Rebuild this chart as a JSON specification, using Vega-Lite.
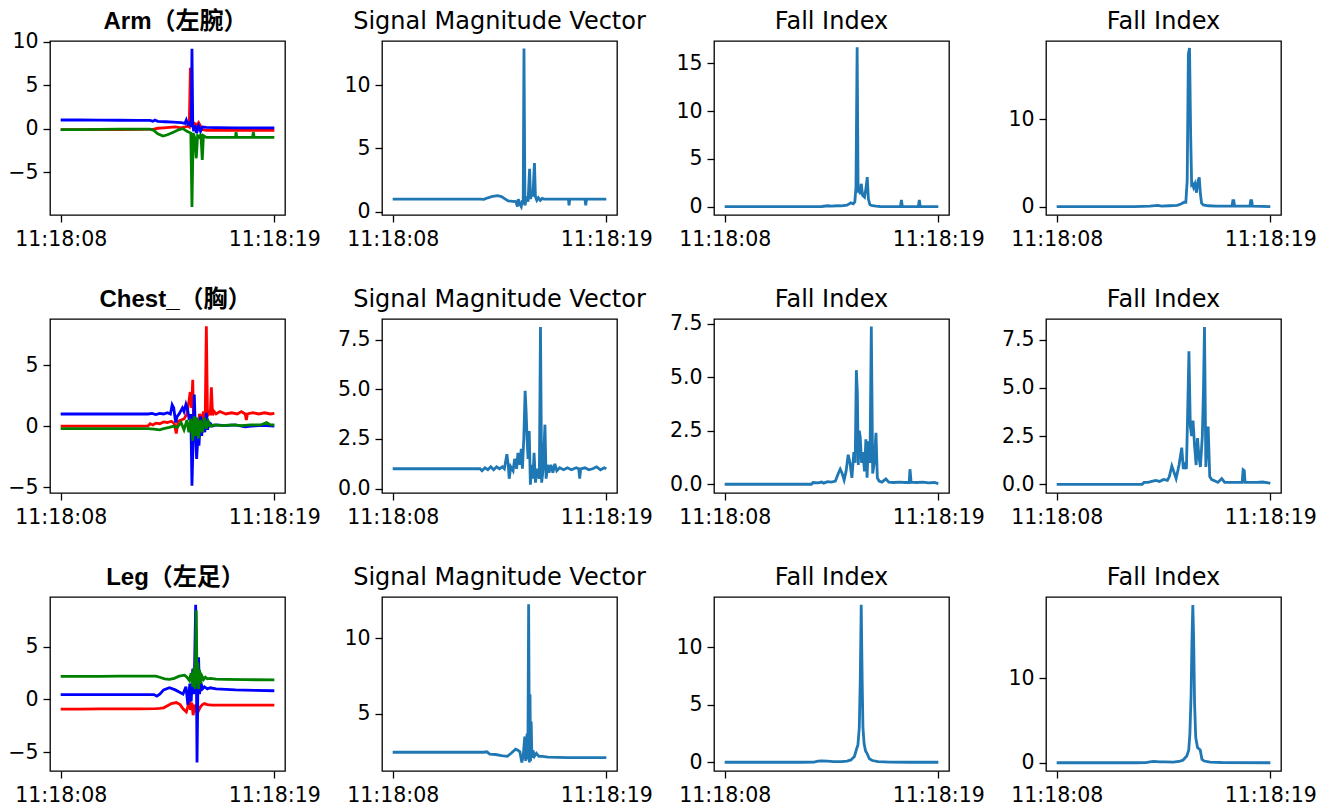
{
  "$schema": "https://vega.github.io/schema/vega-lite/v6.json",
  "padding": {"left": 7, "top": 9, "right": 5, "bottom": 5},
  "background": "white",
  "columns": 4,
  "spacing": {"row": 104, "column": 97},
  "bounds": "flush",
  "config": {
    "font": "DejaVu Sans",
    "view": {"stroke": "#000", "strokeWidth": 1.3},
    "axis": {"domain": false, "grid": false, "ticks": true, "tickColor": "#000", "tickSize": 7, "tickWidth": 1.3, "labelFont": "DejaVu Sans", "labelFontSize": 20.5, "labelColor": "#000", "labelPadding": 5, "labelFlush": false, "labelOverlap": false},
    "axisX": {"labelAngle": 0, "labelPadding": 7},
    "title": {"font": "DejaVu Sans", "fontSize": 24, "fontWeight": "normal", "color": "#000", "offset": 7, "baseline": "alphabetic", "anchor": "middle"},
    "line": {"strokeWidth": 2.8, "color": "#1f77b4"}
  },
  "datasets": {
    "arm": [
      {"s":"x","t":0,"v":-0.1},{"s":"x","t":1,"v":-0.1},{"s":"x","t":2,"v":-0.1},{"s":"x","t":3,"v":-0.1},{"s":"x","t":4,"v":-0.08},{"s":"x","t":4.8,"v":-0.05},{"s":"x","t":5.0,"v":0.05},{"s":"x","t":5.3,"v":0.1},{"s":"x","t":5.6,"v":0.15},{"s":"x","t":5.9,"v":0.2},{"s":"x","t":6.2,"v":0.1},{"s":"x","t":6.4,"v":0.2},{"s":"x","t":6.55,"v":0.3},{"s":"x","t":6.62,"v":0.2},{"s":"x","t":6.68,"v":7.0},{"s":"x","t":6.72,"v":0.5},{"s":"x","t":6.8,"v":0.3},{"s":"x","t":6.9,"v":0.6},{"s":"x","t":7.0,"v":0.4},{"s":"x","t":7.1,"v":0.7},{"s":"x","t":7.2,"v":0.3},{"s":"x","t":7.3,"v":-0.1},{"s":"x","t":7.5,"v":-0.2},{"s":"x","t":8,"v":-0.2},{"s":"x","t":9,"v":-0.2},{"s":"x","t":10,"v":-0.2},{"s":"x","t":11,"v":-0.2},
      {"s":"y","t":0,"v":1.0},{"s":"y","t":1,"v":1.0},{"s":"y","t":2,"v":0.98},{"s":"y","t":3,"v":0.97},{"s":"y","t":4,"v":0.95},{"s":"y","t":4.6,"v":0.95},{"s":"y","t":4.75,"v":0.85},{"s":"y","t":4.85,"v":1.0},{"s":"y","t":5.0,"v":0.85},{"s":"y","t":5.4,"v":0.8},{"s":"y","t":5.8,"v":0.75},{"s":"y","t":6.2,"v":0.7},{"s":"y","t":6.4,"v":0.6},{"s":"y","t":6.47,"v":1.0},{"s":"y","t":6.55,"v":0.5},{"s":"y","t":6.65,"v":0.7},{"s":"y","t":6.72,"v":0.2},{"s":"y","t":6.76,"v":9.2},{"s":"y","t":6.8,"v":0.5},{"s":"y","t":6.85,"v":-0.3},{"s":"y","t":6.92,"v":0.4},{"s":"y","t":7.0,"v":-0.5},{"s":"y","t":7.1,"v":0.3},{"s":"y","t":7.2,"v":-0.3},{"s":"y","t":7.3,"v":0.2},{"s":"y","t":7.5,"v":0.15},{"s":"y","t":8,"v":0.12},{"s":"y","t":9,"v":0.1},{"s":"y","t":10,"v":0.1},{"s":"y","t":11,"v":0.1},
      {"s":"z","t":0,"v":-0.1},{"s":"z","t":1,"v":-0.1},{"s":"z","t":2,"v":-0.08},{"s":"z","t":3,"v":-0.05},{"s":"z","t":4,"v":-0.05},{"s":"z","t":4.6,"v":-0.05},{"s":"z","t":4.8,"v":-0.2},{"s":"z","t":5.0,"v":-0.6},{"s":"z","t":5.27,"v":-0.85},{"s":"z","t":5.5,"v":-0.7},{"s":"z","t":5.8,"v":-0.4},{"s":"z","t":6.1,"v":-0.1},{"s":"z","t":6.3,"v":0.0},{"s":"z","t":6.5,"v":-0.3},{"s":"z","t":6.7,"v":-0.5},{"s":"z","t":6.76,"v":-9.0},{"s":"z","t":6.82,"v":-0.5},{"s":"z","t":6.9,"v":-1.0},{"s":"z","t":6.98,"v":-3.4},{"s":"z","t":7.05,"v":-0.8},{"s":"z","t":7.15,"v":-1.0},{"s":"z","t":7.22,"v":-0.6},{"s":"z","t":7.29,"v":-3.6},{"s":"z","t":7.35,"v":-0.8},{"s":"z","t":7.5,"v":-1.0},{"s":"z","t":8,"v":-1.0},{"s":"z","t":9.0,"v":-1.0},{"s":"z","t":9.03,"v":-0.4},{"s":"z","t":9.07,"v":-1.0},{"s":"z","t":9.88,"v":-1.0},{"s":"z","t":9.92,"v":-0.4},{"s":"z","t":9.96,"v":-1.0},{"s":"z","t":11,"v":-1.0}
    ],
    "arm_smv": [
      {"t":0,"v":1.0},{"t":1,"v":1.0},{"t":2,"v":1.0},{"t":3,"v":1.0},{"t":4,"v":1.0},{"t":4.5,"v":1.0},{"t":4.7,"v":0.98},{"t":4.9,"v":1.1},{"t":5.15,"v":1.22},{"t":5.4,"v":1.27},{"t":5.6,"v":1.2},{"t":5.8,"v":1.0},{"t":5.95,"v":0.85},{"t":6.2,"v":0.82},{"t":6.35,"v":0.8},{"t":6.42,"v":0.4},{"t":6.47,"v":1.0},{"t":6.55,"v":0.6},{"t":6.62,"v":0.4},{"t":6.68,"v":0.9},{"t":6.72,"v":0.6},{"t":6.76,"v":12.9},{"t":6.81,"v":0.5},{"t":6.9,"v":1.2},{"t":6.97,"v":0.8},{"t":7.05,"v":3.4},{"t":7.1,"v":1.0},{"t":7.15,"v":1.5},{"t":7.22,"v":1.2},{"t":7.3,"v":3.85},{"t":7.35,"v":1.2},{"t":7.42,"v":0.9},{"t":7.5,"v":1.1},{"t":7.6,"v":0.9},{"t":7.7,"v":1.05},{"t":7.8,"v":1.0},{"t":8,"v":1.0},{"t":9.05,"v":1.0},{"t":9.08,"v":0.5},{"t":9.12,"v":1.0},{"t":9.9,"v":1.0},{"t":9.94,"v":0.5},{"t":9.98,"v":1.0},{"t":11,"v":1.0}
    ],
    "arm_fi1": [
      {"t":0,"v":0},{"t":1,"v":0},{"t":2,"v":0},{"t":3,"v":0},{"t":4,"v":0},{"t":5.0,"v":0.02},{"t":5.3,"v":0.1},{"t":5.5,"v":0.05},{"t":5.8,"v":0.1},{"t":6.0,"v":0.08},{"t":6.3,"v":0.15},{"t":6.5,"v":0.4},{"t":6.62,"v":0.3},{"t":6.7,"v":0.5},{"t":6.76,"v":2.0},{"t":6.82,"v":16.7},{"t":6.87,"v":1.5},{"t":6.93,"v":2.0},{"t":6.98,"v":1.3},{"t":7.03,"v":2.4},{"t":7.1,"v":1.2},{"t":7.2,"v":1.0},{"t":7.28,"v":2.0},{"t":7.34,"v":3.1},{"t":7.4,"v":0.8},{"t":7.48,"v":0.2},{"t":7.6,"v":0.1},{"t":7.8,"v":0.05},{"t":8,"v":0.02},{"t":9.05,"v":0.0},{"t":9.1,"v":0.7},{"t":9.15,"v":0.0},{"t":9.97,"v":0.0},{"t":10.02,"v":0.7},{"t":10.07,"v":0.0},{"t":11,"v":0.0}
    ],
    "arm_fi2": [
      {"t":0,"v":0},{"t":1,"v":0},{"t":2,"v":0},{"t":3,"v":0},{"t":4,"v":0},{"t":4.8,"v":0.05},{"t":5.2,"v":0.15},{"t":5.4,"v":0.05},{"t":5.8,"v":0.1},{"t":6.2,"v":0.15},{"t":6.4,"v":0.3},{"t":6.56,"v":0.5},{"t":6.65,"v":0.5},{"t":6.72,"v":3},{"t":6.78,"v":17.5},{"t":6.84,"v":18.2},{"t":6.9,"v":8},{"t":6.95,"v":2.5},{"t":7.0,"v":2.6},{"t":7.05,"v":2.2},{"t":7.12,"v":2.6},{"t":7.2,"v":1.6},{"t":7.28,"v":3.0},{"t":7.34,"v":3.35},{"t":7.4,"v":1.5},{"t":7.46,"v":0.4},{"t":7.55,"v":0.2},{"t":7.8,"v":0.1},{"t":8.2,"v":0.05},{"t":9.03,"v":0.05},{"t":9.07,"v":0.7},{"t":9.12,"v":0.7},{"t":9.16,"v":0.05},{"t":9.95,"v":0.05},{"t":9.99,"v":0.7},{"t":10.04,"v":0.7},{"t":10.08,"v":0.05},{"t":11,"v":0.0}
    ],
    "chest": [
      {"s":"x","t":0,"v":0.0},{"s":"x","t":1,"v":0.0},{"s":"x","t":2,"v":0.0},{"s":"x","t":3,"v":0.0},{"s":"x","t":4,"v":0.0},{"s":"x","t":4.5,"v":0.02},{"s":"x","t":4.6,"v":0.2},{"s":"x","t":4.75,"v":0.1},{"s":"x","t":4.9,"v":0.25},{"s":"x","t":5.1,"v":0.2},{"s":"x","t":5.3,"v":0.35},{"s":"x","t":5.5,"v":0.3},{"s":"x","t":5.7,"v":0.4},{"s":"x","t":5.85,"v":0.2},{"s":"x","t":5.95,"v":-0.6},{"s":"x","t":6.05,"v":0.4},{"s":"x","t":6.2,"v":0.5},{"s":"x","t":6.35,"v":0.6},{"s":"x","t":6.5,"v":1.0},{"s":"x","t":6.6,"v":2.0},{"s":"x","t":6.67,"v":2.8},{"s":"x","t":6.74,"v":1.5},{"s":"x","t":6.8,"v":3.8},{"s":"x","t":6.86,"v":-1.0},{"s":"x","t":6.95,"v":0.5},{"s":"x","t":7.05,"v":-0.3},{"s":"x","t":7.15,"v":1.0},{"s":"x","t":7.25,"v":0.4},{"s":"x","t":7.35,"v":1.2},{"s":"x","t":7.44,"v":0.5},{"s":"x","t":7.5,"v":8.2},{"s":"x","t":7.56,"v":0.8},{"s":"x","t":7.64,"v":1.3},{"s":"x","t":7.7,"v":0.9},{"s":"x","t":7.76,"v":3.2},{"s":"x","t":7.82,"v":0.9},{"s":"x","t":7.9,"v":1.2},{"s":"x","t":8.0,"v":1.0},{"s":"x","t":8.2,"v":1.2},{"s":"x","t":8.5,"v":1.0},{"s":"x","t":8.8,"v":1.1},{"s":"x","t":9.1,"v":1.0},{"s":"x","t":9.3,"v":1.2},{"s":"x","t":9.5,"v":1.0},{"s":"x","t":9.56,"v":0.5},{"s":"x","t":9.62,"v":1.0},{"s":"x","t":9.9,"v":1.1},{"s":"x","t":10.2,"v":1.0},{"s":"x","t":10.5,"v":1.1},{"s":"x","t":10.8,"v":1.0},{"s":"x","t":11,"v":1.05},
      {"s":"y","t":0,"v":1.0},{"s":"y","t":1,"v":1.0},{"s":"y","t":2,"v":1.0},{"s":"y","t":3,"v":1.0},{"s":"y","t":4,"v":1.0},{"s":"y","t":4.5,"v":1.0},{"s":"y","t":4.7,"v":1.05},{"s":"y","t":4.9,"v":0.95},{"s":"y","t":5.1,"v":1.05},{"s":"y","t":5.3,"v":1.0},{"s":"y","t":5.5,"v":1.1},{"s":"y","t":5.65,"v":1.0},{"s":"y","t":5.74,"v":1.75},{"s":"y","t":5.82,"v":1.5},{"s":"y","t":5.92,"v":0.3},{"s":"y","t":6.0,"v":0.8},{"s":"y","t":6.1,"v":1.0},{"s":"y","t":6.27,"v":1.5},{"s":"y","t":6.35,"v":1.2},{"s":"y","t":6.45,"v":1.8},{"s":"y","t":6.53,"v":1.4},{"s":"y","t":6.62,"v":0.5},{"s":"y","t":6.7,"v":1.0},{"s":"y","t":6.76,"v":-4.9},{"s":"y","t":6.82,"v":-1.0},{"s":"y","t":6.88,"v":2.6},{"s":"y","t":6.94,"v":-0.5},{"s":"y","t":7.0,"v":-2.7},{"s":"y","t":7.06,"v":-1.0},{"s":"y","t":7.12,"v":-1.6},{"s":"y","t":7.2,"v":0.8},{"s":"y","t":7.26,"v":-0.8},{"s":"y","t":7.33,"v":0.5},{"s":"y","t":7.42,"v":-0.5},{"s":"y","t":7.5,"v":1.1},{"s":"y","t":7.56,"v":-0.3},{"s":"y","t":7.64,"v":0.3},{"s":"y","t":7.72,"v":0.2},{"s":"y","t":7.8,"v":0.0},{"s":"y","t":8.0,"v":0.1},{"s":"y","t":8.5,"v":0.05},{"s":"y","t":9.0,"v":0.1},{"s":"y","t":9.5,"v":-0.05},{"s":"y","t":9.8,"v":0.0},{"s":"y","t":10.2,"v":0.05},{"s":"y","t":10.6,"v":0.05},{"s":"y","t":11,"v":0.0},
      {"s":"z","t":0,"v":-0.2},{"s":"z","t":1,"v":-0.2},{"s":"z","t":2,"v":-0.2},{"s":"z","t":3,"v":-0.2},{"s":"z","t":4,"v":-0.2},{"s":"z","t":4.5,"v":-0.2},{"s":"z","t":4.8,"v":-0.25},{"s":"z","t":5.1,"v":-0.3},{"s":"z","t":5.3,"v":-0.2},{"s":"z","t":5.6,"v":-0.1},{"s":"z","t":5.8,"v":0.0},{"s":"z","t":6.0,"v":-0.1},{"s":"z","t":6.2,"v":0.3},{"s":"z","t":6.35,"v":-0.3},{"s":"z","t":6.5,"v":0.5},{"s":"z","t":6.6,"v":-0.5},{"s":"z","t":6.7,"v":0.6},{"s":"z","t":6.8,"v":-1.2},{"s":"z","t":6.87,"v":0.8},{"s":"z","t":6.95,"v":-0.8},{"s":"z","t":7.02,"v":0.7},{"s":"z","t":7.1,"v":-1.0},{"s":"z","t":7.2,"v":0.5},{"s":"z","t":7.3,"v":-0.5},{"s":"z","t":7.4,"v":0.7},{"s":"z","t":7.5,"v":-0.2},{"s":"z","t":7.6,"v":0.4},{"s":"z","t":7.7,"v":0.0},{"s":"z","t":7.9,"v":0.1},{"s":"z","t":8.3,"v":0.05},{"s":"z","t":8.8,"v":0.1},{"s":"z","t":9.3,"v":0.05},{"s":"z","t":9.8,"v":0.1},{"s":"z","t":10.3,"v":0.1},{"s":"z","t":10.6,"v":0.3},{"s":"z","t":10.8,"v":0.1},{"s":"z","t":11,"v":0.1}
    ],
    "chest_smv": [
      {"t":0,"v":1.0},{"t":1,"v":1.0},{"t":2,"v":1.0},{"t":3,"v":1.0},{"t":4,"v":1.0},{"t":4.5,"v":1.0},{"t":4.6,"v":0.9},{"t":4.75,"v":1.05},{"t":4.9,"v":0.95},{"t":5.05,"v":1.1},{"t":5.2,"v":0.95},{"t":5.35,"v":1.1},{"t":5.5,"v":1.0},{"t":5.65,"v":1.1},{"t":5.75,"v":1.0},{"t":5.88,"v":1.73},{"t":5.95,"v":1.2},{"t":6.0,"v":0.5},{"t":6.08,"v":1.1},{"t":6.2,"v":0.9},{"t":6.28,"v":1.5},{"t":6.38,"v":1.0},{"t":6.45,"v":1.8},{"t":6.55,"v":1.2},{"t":6.62,"v":2.0},{"t":6.68,"v":1.0},{"t":6.75,"v":2.5},{"t":6.82,"v":4.92},{"t":6.87,"v":3.9},{"t":6.92,"v":2.5},{"t":6.97,"v":1.5},{"t":7.03,"v":2.9},{"t":7.09,"v":0.2},{"t":7.15,"v":1.2},{"t":7.22,"v":0.5},{"t":7.28,"v":1.8},{"t":7.35,"v":0.3},{"t":7.45,"v":1.0},{"t":7.55,"v":0.5},{"t":7.61,"v":8.14},{"t":7.67,"v":0.3},{"t":7.75,"v":1.0},{"t":7.84,"v":3.22},{"t":7.9,"v":0.5},{"t":7.98,"v":1.2},{"t":8.05,"v":0.8},{"t":8.15,"v":1.2},{"t":8.25,"v":0.8},{"t":8.35,"v":1.25},{"t":8.45,"v":0.9},{"t":8.6,"v":1.05},{"t":8.8,"v":0.95},{"t":9.0,"v":1.05},{"t":9.2,"v":0.95},{"t":9.45,"v":1.05},{"t":9.58,"v":1.0},{"t":9.63,"v":0.5},{"t":9.68,"v":1.0},{"t":9.9,"v":1.05},{"t":10.1,"v":0.95},{"t":10.3,"v":1.0},{"t":10.5,"v":1.1},{"t":10.7,"v":0.95},{"t":10.9,"v":1.05},{"t":11,"v":1.0}
    ],
    "chest_fi1": [
      {"t":0,"v":0.0},{"t":1,"v":0.0},{"t":2,"v":0.0},{"t":3,"v":0.0},{"t":4,"v":0.0},{"t":4.47,"v":0.0},{"t":4.55,"v":0.08},{"t":4.8,"v":0.06},{"t":5.0,"v":0.1},{"t":5.1,"v":0.05},{"t":5.3,"v":0.12},{"t":5.5,"v":0.1},{"t":5.7,"v":0.15},{"t":5.85,"v":0.5},{"t":5.95,"v":0.7},{"t":6.05,"v":0.5},{"t":6.15,"v":0.2},{"t":6.25,"v":0.6},{"t":6.36,"v":1.38},{"t":6.45,"v":1.0},{"t":6.55,"v":0.3},{"t":6.65,"v":1.5},{"t":6.72,"v":1.0},{"t":6.78,"v":5.33},{"t":6.83,"v":4.3},{"t":6.88,"v":0.9},{"t":6.93,"v":2.5},{"t":6.98,"v":2.2},{"t":7.05,"v":1.0},{"t":7.12,"v":1.5},{"t":7.2,"v":0.6},{"t":7.27,"v":2.1},{"t":7.33,"v":0.3},{"t":7.4,"v":2.0},{"t":7.48,"v":1.0},{"t":7.55,"v":7.37},{"t":7.62,"v":0.5},{"t":7.7,"v":1.0},{"t":7.79,"v":2.4},{"t":7.86,"v":0.3},{"t":7.95,"v":0.15},{"t":8.1,"v":0.1},{"t":8.3,"v":0.25},{"t":8.45,"v":0.1},{"t":8.7,"v":0.08},{"t":9.0,"v":0.1},{"t":9.3,"v":0.08},{"t":9.5,"v":0.08},{"t":9.54,"v":0.7},{"t":9.6,"v":0.1},{"t":9.9,"v":0.08},{"t":10.2,"v":0.1},{"t":10.5,"v":0.06},{"t":10.8,"v":0.08},{"t":11,"v":0.03}
    ],
    "chest_fi2": [
      {"t":0,"v":0.0},{"t":1,"v":0.0},{"t":2,"v":0.0},{"t":3,"v":0.0},{"t":4,"v":0.0},{"t":4.4,"v":0.0},{"t":4.5,"v":0.1},{"t":4.7,"v":0.1},{"t":4.9,"v":0.15},{"t":5.1,"v":0.2},{"t":5.3,"v":0.15},{"t":5.5,"v":0.25},{"t":5.7,"v":0.2},{"t":5.8,"v":0.4},{"t":5.93,"v":0.95},{"t":6.05,"v":0.6},{"t":6.15,"v":0.3},{"t":6.3,"v":1.0},{"t":6.44,"v":1.9},{"t":6.52,"v":0.8},{"t":6.6,"v":1.0},{"t":6.68,"v":0.8},{"t":6.75,"v":4.0},{"t":6.81,"v":6.9},{"t":6.88,"v":3.0},{"t":6.95,"v":2.5},{"t":7.02,"v":3.3},{"t":7.1,"v":2.0},{"t":7.18,"v":1.0},{"t":7.25,"v":2.4},{"t":7.32,"v":1.5},{"t":7.4,"v":0.9},{"t":7.5,"v":2.5},{"t":7.56,"v":5.0},{"t":7.61,"v":8.15},{"t":7.68,"v":0.9},{"t":7.74,"v":2.0},{"t":7.8,"v":3.0},{"t":7.88,"v":0.4},{"t":7.98,"v":0.25},{"t":8.1,"v":0.2},{"t":8.3,"v":0.1},{"t":8.5,"v":0.3},{"t":8.65,"v":0.1},{"t":9.0,"v":0.1},{"t":9.3,"v":0.1},{"t":9.55,"v":0.1},{"t":9.6,"v":0.75},{"t":9.66,"v":0.7},{"t":9.7,"v":0.1},{"t":10.0,"v":0.1},{"t":10.3,"v":0.1},{"t":10.6,"v":0.12},{"t":10.9,"v":0.08},{"t":11,"v":0.05}
    ],
    "leg": [
      {"s":"x","t":0,"v":-0.92},{"s":"x","t":1,"v":-0.92},{"s":"x","t":2,"v":-0.9},{"s":"x","t":3,"v":-0.9},{"s":"x","t":4,"v":-0.9},{"s":"x","t":4.9,"v":-0.88},{"s":"x","t":5.1,"v":-0.85},{"s":"x","t":5.3,"v":-0.8},{"s":"x","t":5.5,"v":-0.6},{"s":"x","t":5.7,"v":-0.4},{"s":"x","t":5.95,"v":-0.3},{"s":"x","t":6.15,"v":-0.5},{"s":"x","t":6.3,"v":-0.9},{"s":"x","t":6.47,"v":-1.2},{"s":"x","t":6.55,"v":-0.7},{"s":"x","t":6.62,"v":1.0},{"s":"x","t":6.68,"v":-1.0},{"s":"x","t":6.75,"v":-0.3},{"s":"x","t":6.82,"v":-1.5},{"s":"x","t":6.9,"v":-0.5},{"s":"x","t":6.98,"v":-1.0},{"s":"x","t":7.05,"v":-0.6},{"s":"x","t":7.12,"v":-1.0},{"s":"x","t":7.2,"v":-0.7},{"s":"x","t":7.3,"v":-0.5},{"s":"x","t":7.4,"v":-0.4},{"s":"x","t":7.55,"v":-0.5},{"s":"x","t":7.8,"v":-0.55},{"s":"x","t":8.5,"v":-0.55},{"s":"x","t":9.5,"v":-0.55},{"s":"x","t":11,"v":-0.55},
      {"s":"y","t":0,"v":0.45},{"s":"y","t":1,"v":0.45},{"s":"y","t":2,"v":0.45},{"s":"y","t":3,"v":0.45},{"s":"y","t":4,"v":0.45},{"s":"y","t":4.8,"v":0.45},{"s":"y","t":4.95,"v":0.3},{"s":"y","t":5.1,"v":0.5},{"s":"y","t":5.3,"v":0.9},{"s":"y","t":5.6,"v":1.1},{"s":"y","t":5.9,"v":0.9},{"s":"y","t":6.1,"v":0.7},{"s":"y","t":6.3,"v":0.5},{"s":"y","t":6.45,"v":1.2},{"s":"y","t":6.55,"v":-0.5},{"s":"y","t":6.65,"v":1.5},{"s":"y","t":6.72,"v":-0.2},{"s":"y","t":6.8,"v":2.9},{"s":"y","t":6.87,"v":0.5},{"s":"y","t":6.95,"v":8.98},{"s":"y","t":6.99,"v":2.0},{"s":"y","t":7.02,"v":-6.0},{"s":"y","t":7.06,"v":0.5},{"s":"y","t":7.1,"v":4.0},{"s":"y","t":7.15,"v":0.5},{"s":"y","t":7.22,"v":1.6},{"s":"y","t":7.3,"v":1.0},{"s":"y","t":7.4,"v":1.2},{"s":"y","t":7.55,"v":1.0},{"s":"y","t":7.7,"v":1.1},{"s":"y","t":8.0,"v":1.0},{"s":"y","t":8.5,"v":0.95},{"s":"y","t":9.0,"v":0.9},{"s":"y","t":10.0,"v":0.85},{"s":"y","t":11,"v":0.82},
      {"s":"z","t":0,"v":2.18},{"s":"z","t":1,"v":2.18},{"s":"z","t":2,"v":2.18},{"s":"z","t":3,"v":2.2},{"s":"z","t":4,"v":2.2},{"s":"z","t":4.9,"v":2.2},{"s":"z","t":5.1,"v":2.1},{"s":"z","t":5.35,"v":1.95},{"s":"z","t":5.6,"v":1.9},{"s":"z","t":5.85,"v":2.0},{"s":"z","t":6.1,"v":2.2},{"s":"z","t":6.38,"v":2.3},{"s":"z","t":6.5,"v":2.1},{"s":"z","t":6.62,"v":1.8},{"s":"z","t":6.72,"v":2.5},{"s":"z","t":6.8,"v":1.2},{"s":"z","t":6.86,"v":3.0},{"s":"z","t":6.92,"v":1.0},{"s":"z","t":6.98,"v":8.45},{"s":"z","t":7.02,"v":1.5},{"s":"z","t":7.06,"v":3.5},{"s":"z","t":7.1,"v":1.0},{"s":"z","t":7.15,"v":2.8},{"s":"z","t":7.2,"v":1.5},{"s":"z","t":7.28,"v":2.2},{"s":"z","t":7.36,"v":1.9},{"s":"z","t":7.45,"v":2.1},{"s":"z","t":7.55,"v":1.95},{"s":"z","t":7.7,"v":2.0},{"s":"z","t":8.0,"v":1.92},{"s":"z","t":8.5,"v":1.9},{"s":"z","t":9.5,"v":1.87},{"s":"z","t":11,"v":1.85}
    ],
    "leg_smv": [
      {"t":0,"v":2.47},{"t":1,"v":2.47},{"t":2,"v":2.47},{"t":3,"v":2.47},{"t":4,"v":2.47},{"t":4.7,"v":2.47},{"t":4.85,"v":2.5},{"t":5.0,"v":2.35},{"t":5.3,"v":2.32},{"t":5.6,"v":2.25},{"t":5.9,"v":2.2},{"t":6.1,"v":2.4},{"t":6.33,"v":2.67},{"t":6.45,"v":2.6},{"t":6.55,"v":2.5},{"t":6.65,"v":1.8},{"t":6.72,"v":2.2},{"t":6.8,"v":3.5},{"t":6.85,"v":1.9},{"t":6.92,"v":3.7},{"t":6.96,"v":2.0},{"t":7.0,"v":12.25},{"t":7.04,"v":1.8},{"t":7.07,"v":6.3},{"t":7.1,"v":1.9},{"t":7.13,"v":4.5},{"t":7.17,"v":2.1},{"t":7.22,"v":2.6},{"t":7.3,"v":2.2},{"t":7.4,"v":2.4},{"t":7.53,"v":2.2},{"t":7.7,"v":2.2},{"t":8.0,"v":2.15},{"t":9.0,"v":2.12},{"t":10.0,"v":2.12},{"t":11,"v":2.12}
    ],
    "leg_fi1": [
      {"t":0,"v":0},{"t":1,"v":0},{"t":2,"v":0},{"t":3,"v":0},{"t":4,"v":0},{"t":4.6,"v":0.02},{"t":4.8,"v":0.1},{"t":5.0,"v":0.12},{"t":5.3,"v":0.1},{"t":5.6,"v":0.05},{"t":6.0,"v":0.05},{"t":6.3,"v":0.1},{"t":6.5,"v":0.2},{"t":6.68,"v":0.5},{"t":6.8,"v":1.2},{"t":6.86,"v":1.5},{"t":6.93,"v":3.0},{"t":6.98,"v":7.0},{"t":7.03,"v":13.7},{"t":7.08,"v":7.0},{"t":7.12,"v":3.0},{"t":7.18,"v":1.6},{"t":7.25,"v":1.0},{"t":7.32,"v":0.8},{"t":7.45,"v":0.3},{"t":7.6,"v":0.15},{"t":7.9,"v":0.05},{"t":8.5,"v":0.02},{"t":9.5,"v":0.0},{"t":11,"v":0.0}
    ],
    "leg_fi2": [
      {"t":0,"v":0},{"t":1,"v":0},{"t":2,"v":0},{"t":3,"v":0},{"t":4,"v":0},{"t":4.6,"v":0.02},{"t":4.8,"v":0.1},{"t":5.0,"v":0.15},{"t":5.3,"v":0.1},{"t":5.6,"v":0.1},{"t":6.0,"v":0.08},{"t":6.3,"v":0.15},{"t":6.5,"v":0.3},{"t":6.7,"v":0.8},{"t":6.8,"v":1.5},{"t":6.86,"v":3.5},{"t":6.92,"v":8.0},{"t":6.97,"v":15},{"t":7.01,"v":18.7},{"t":7.05,"v":15},{"t":7.1,"v":7.0},{"t":7.16,"v":3.0},{"t":7.25,"v":1.8},{"t":7.39,"v":1.5},{"t":7.48,"v":0.4},{"t":7.6,"v":0.2},{"t":7.9,"v":0.08},{"t":8.5,"v":0.03},{"t":11,"v":0.0}
    ]
  },
  "concat": [
    {
      "title": {"text": "Arm（左腕）", "font": "Liberation Sans, Noto Sans CJK SC", "fontWeight": "bold", "fontSize": 24, "dx": 8, "offset": -2},
      "width": 235, "height": 174,
      "data": {"name": "arm"},
      "mark": {"type": "line", "strokeWidth": 2.8},
      "encoding": {
        "x": {"field": "t", "type": "quantitative", "scale": {"domain": [-0.55, 11.55], "nice": false, "zero": false}, "axis": {"values": [0, 11], "labelExpr": "timeFormat(datetime(2000, 0, 1, 11, 18, 8 + datum.value), '%H:%M:%S')", "title": null}},
        "y": {"field": "v", "type": "quantitative", "scale": {"domain": [-9.92, 10.08], "nice": false, "zero": false}, "axis": {"values": [-5, 0, 5, 10], "format": "d", "title": null}},
        "color": {"field": "s", "type": "nominal", "scale": {"domain": ["x", "y", "z"], "range": ["#ff0000", "#0000ff", "#008000"]}, "legend": null}
      }
    },
    {
      "title": {"text": "Signal Magnitude Vector"},
      "width": 235, "height": 174,
      "data": {"name": "arm_smv"},
      "mark": {"type": "line", "color": "#1f77b4", "strokeWidth": 2.8},
      "encoding": {
        "x": {"field": "t", "type": "quantitative", "scale": {"domain": [-0.55, 11.55], "nice": false, "zero": false}, "axis": {"values": [0, 11], "labelExpr": "timeFormat(datetime(2000, 0, 1, 11, 18, 8 + datum.value), '%H:%M:%S')", "title": null}},
        "y": {"field": "v", "type": "quantitative", "scale": {"domain": [-0.26, 13.5], "nice": false, "zero": false}, "axis": {"values": [0, 5, 10], "format": "d", "title": null}}
      }
    },
    {
      "title": {"text": "Fall Index"},
      "width": 235, "height": 174,
      "data": {"name": "arm_fi1"},
      "mark": {"type": "line", "color": "#1f77b4", "strokeWidth": 2.8},
      "encoding": {
        "x": {"field": "t", "type": "quantitative", "scale": {"domain": [-0.55, 11.55], "nice": false, "zero": false}, "axis": {"values": [0, 11], "labelExpr": "timeFormat(datetime(2000, 0, 1, 11, 18, 8 + datum.value), '%H:%M:%S')", "title": null}},
        "y": {"field": "v", "type": "quantitative", "scale": {"domain": [-0.87, 17.35], "nice": false, "zero": false}, "axis": {"values": [0, 5, 10, 15], "format": "d", "title": null}}
      }
    },
    {
      "title": {"text": "Fall Index"},
      "width": 235, "height": 174,
      "data": {"name": "arm_fi2"},
      "mark": {"type": "line", "color": "#1f77b4", "strokeWidth": 2.8},
      "encoding": {
        "x": {"field": "t", "type": "quantitative", "scale": {"domain": [-0.55, 11.55], "nice": false, "zero": false}, "axis": {"values": [0, 11], "labelExpr": "timeFormat(datetime(2000, 0, 1, 11, 18, 8 + datum.value), '%H:%M:%S')", "title": null}},
        "y": {"field": "v", "type": "quantitative", "scale": {"domain": [-0.96, 19.0], "nice": false, "zero": false}, "axis": {"values": [0, 10], "format": "d", "title": null}}
      }
    },
    {
      "title": {"text": "Chest_（胸）", "font": "Liberation Sans, Noto Sans CJK SC", "fontWeight": "bold", "fontSize": 24, "dx": 8},
      "width": 235, "height": 174,
      "data": {"name": "chest"},
      "mark": {"type": "line", "strokeWidth": 2.8},
      "encoding": {
        "x": {"field": "t", "type": "quantitative", "scale": {"domain": [-0.55, 11.55], "nice": false, "zero": false}, "axis": {"values": [0, 11], "labelExpr": "timeFormat(datetime(2000, 0, 1, 11, 18, 8 + datum.value), '%H:%M:%S')", "title": null}},
        "y": {"field": "v", "type": "quantitative", "scale": {"domain": [-5.49, 8.8], "nice": false, "zero": false}, "axis": {"values": [-5, 0, 5], "format": "d", "title": null}},
        "color": {"field": "s", "type": "nominal", "scale": {"domain": ["x", "y", "z"], "range": ["#ff0000", "#0000ff", "#008000"]}, "legend": null}
      }
    },
    {
      "title": {"text": "Signal Magnitude Vector"},
      "width": 235, "height": 174,
      "data": {"name": "chest_smv"},
      "mark": {"type": "line", "color": "#1f77b4", "strokeWidth": 2.8},
      "encoding": {
        "x": {"field": "t", "type": "quantitative", "scale": {"domain": [-0.55, 11.55], "nice": false, "zero": false}, "axis": {"values": [0, 11], "labelExpr": "timeFormat(datetime(2000, 0, 1, 11, 18, 8 + datum.value), '%H:%M:%S')", "title": null}},
        "y": {"field": "v", "type": "quantitative", "scale": {"domain": [-0.22, 8.54], "nice": false, "zero": false}, "axis": {"values": [0, 2.5, 5, 7.5], "format": ".1f", "title": null}}
      }
    },
    {
      "title": {"text": "Fall Index", "offset": 2},
      "width": 235, "height": 174,
      "data": {"name": "chest_fi1"},
      "mark": {"type": "line", "color": "#1f77b4", "strokeWidth": 2.8},
      "encoding": {
        "x": {"field": "t", "type": "quantitative", "scale": {"domain": [-0.55, 11.55], "nice": false, "zero": false}, "axis": {"values": [0, 11], "labelExpr": "timeFormat(datetime(2000, 0, 1, 11, 18, 8 + datum.value), '%H:%M:%S')", "title": null}},
        "y": {"field": "v", "type": "quantitative", "scale": {"domain": [-0.41, 7.72], "nice": false, "zero": false}, "axis": {"values": [0, 2.5, 5, 7.5], "format": ".1f", "title": null}}
      }
    },
    {
      "title": {"text": "Fall Index"},
      "width": 235, "height": 174,
      "data": {"name": "chest_fi2"},
      "mark": {"type": "line", "color": "#1f77b4", "strokeWidth": 2.8},
      "encoding": {
        "x": {"field": "t", "type": "quantitative", "scale": {"domain": [-0.55, 11.55], "nice": false, "zero": false}, "axis": {"values": [0, 11], "labelExpr": "timeFormat(datetime(2000, 0, 1, 11, 18, 8 + datum.value), '%H:%M:%S')", "title": null}},
        "y": {"field": "v", "type": "quantitative", "scale": {"domain": [-0.45, 8.57], "nice": false, "zero": false}, "axis": {"values": [0, 2.5, 5, 7.5], "format": ".1f", "title": null}}
      }
    },
    {
      "title": {"text": "Leg（左足）", "font": "Liberation Sans, Noto Sans CJK SC", "fontWeight": "bold", "fontSize": 24, "dx": 8},
      "width": 235, "height": 174,
      "data": {"name": "leg"},
      "mark": {"type": "line", "strokeWidth": 2.8},
      "encoding": {
        "x": {"field": "t", "type": "quantitative", "scale": {"domain": [-0.55, 11.55], "nice": false, "zero": false}, "axis": {"values": [0, 11], "labelExpr": "timeFormat(datetime(2000, 0, 1, 11, 18, 8 + datum.value), '%H:%M:%S')", "title": null}},
        "y": {"field": "v", "type": "quantitative", "scale": {"domain": [-6.8, 9.72], "nice": false, "zero": false}, "axis": {"values": [-5, 0, 5], "format": "d", "title": null}},
        "color": {"field": "s", "type": "nominal", "scale": {"domain": ["x", "y", "z"], "range": ["#ff0000", "#0000ff", "#008000"]}, "legend": null}
      }
    },
    {
      "title": {"text": "Signal Magnitude Vector"},
      "width": 235, "height": 174,
      "data": {"name": "leg_smv"},
      "mark": {"type": "line", "color": "#1f77b4", "strokeWidth": 2.8},
      "encoding": {
        "x": {"field": "t", "type": "quantitative", "scale": {"domain": [-0.55, 11.55], "nice": false, "zero": false}, "axis": {"values": [0, 11], "labelExpr": "timeFormat(datetime(2000, 0, 1, 11, 18, 8 + datum.value), '%H:%M:%S')", "title": null}},
        "y": {"field": "v", "type": "quantitative", "scale": {"domain": [1.23, 12.73], "nice": false, "zero": false}, "axis": {"values": [5, 10], "format": "d", "title": null}}
      }
    },
    {
      "title": {"text": "Fall Index"},
      "width": 235, "height": 174,
      "data": {"name": "leg_fi1"},
      "mark": {"type": "line", "color": "#1f77b4", "strokeWidth": 2.8},
      "encoding": {
        "x": {"field": "t", "type": "quantitative", "scale": {"domain": [-0.55, 11.55], "nice": false, "zero": false}, "axis": {"values": [0, 11], "labelExpr": "timeFormat(datetime(2000, 0, 1, 11, 18, 8 + datum.value), '%H:%M:%S')", "title": null}},
        "y": {"field": "v", "type": "quantitative", "scale": {"domain": [-0.76, 14.37], "nice": false, "zero": false}, "axis": {"values": [0, 5, 10], "format": "d", "title": null}}
      }
    },
    {
      "title": {"text": "Fall Index"},
      "width": 235, "height": 174,
      "data": {"name": "leg_fi2"},
      "mark": {"type": "line", "color": "#1f77b4", "strokeWidth": 2.8},
      "encoding": {
        "x": {"field": "t", "type": "quantitative", "scale": {"domain": [-0.55, 11.55], "nice": false, "zero": false}, "axis": {"values": [0, 11], "labelExpr": "timeFormat(datetime(2000, 0, 1, 11, 18, 8 + datum.value), '%H:%M:%S')", "title": null}},
        "y": {"field": "v", "type": "quantitative", "scale": {"domain": [-0.98, 19.65], "nice": false, "zero": false}, "axis": {"values": [0, 10], "format": "d", "title": null}}
      }
    }
  ]
}
